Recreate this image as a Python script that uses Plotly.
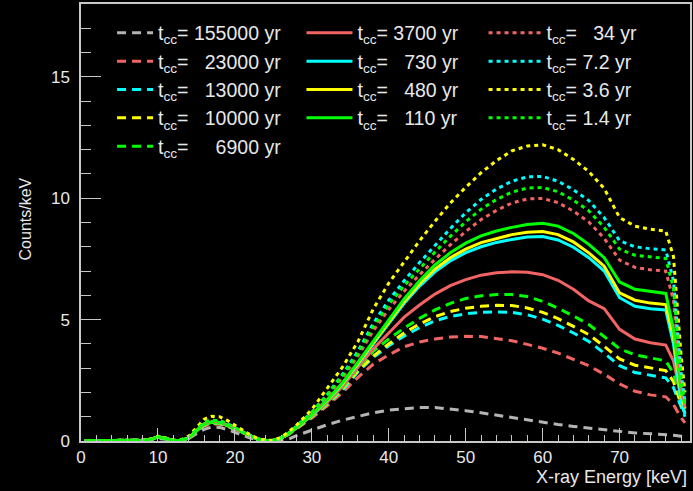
import plotly.graph_objects as go

energy = [0.5, 4, 8, 9, 10, 11, 12, 13, 14, 15, 16, 17, 18, 19, 20, 21, 22, 23, 24, 25, 26, 27,
          28, 30, 32, 34, 36, 38, 40, 42, 44, 46, 48, 50, 52, 54, 56, 58, 60, 62, 64, 66, 68, 70,
          72, 74, 76, 77, 78, 78.5]

gray_155000 = [0.01, 0.01, 0.02, 0.05, 0.1, 0.07, 0.02, 0.03, 0.1, 0.3, 0.48, 0.58, 0.56, 0.47, 0.35, 0.23, 0.12, 0.05, 0.01, 0.0, 0.02, 0.08,
               0.22, 0.45, 0.67, 0.86, 1.02, 1.16, 1.27, 1.34, 1.38, 1.38, 1.33, 1.25, 1.16, 1.06, 0.96, 0.86, 0.77, 0.68, 0.6, 0.53, 0.45, 0.38,
               0.33, 0.3, 0.27, 0.24, 0.2, 0.17]
red_23000 = [0.02, 0.02, 0.03, 0.07, 0.15, 0.1, 0.02, 0.03, 0.12, 0.38, 0.62, 0.7, 0.69, 0.6, 0.47, 0.32, 0.18, 0.07, 0.02, 0.02, 0.1, 0.28,
             0.5, 0.95, 1.45, 2.0, 2.62, 3.17, 3.55, 3.88, 4.08, 4.2, 4.28, 4.31, 4.3, 4.23, 4.13, 3.98, 3.82, 3.62, 3.37, 3.1, 2.75, 2.35,
             2.05, 1.9, 1.82, 1.5, 0.95, 0.75]
cyan_13000 = [0.02, 0.02, 0.03, 0.07, 0.16, 0.1, 0.02, 0.03, 0.12, 0.4, 0.65, 0.74, 0.72, 0.62, 0.48, 0.33, 0.18, 0.07, 0.02, 0.02, 0.11, 0.29,
              0.52, 1.0, 1.52, 2.1, 2.85, 3.45, 3.92, 4.33, 4.67, 4.95, 5.13, 5.24, 5.3, 5.32, 5.3, 5.2, 5.02, 4.76, 4.45, 4.1, 3.62, 3.1,
              2.82, 2.7, 2.6, 2.2, 1.35, 1.0]
yellow_10000 = [0.02, 0.02, 0.03, 0.07, 0.16, 0.1, 0.02, 0.03, 0.12, 0.4, 0.66, 0.75, 0.73, 0.63, 0.49, 0.33, 0.18, 0.07, 0.02, 0.02, 0.11, 0.29,
                0.52, 1.01, 1.54, 2.15, 2.9, 3.5, 4.0, 4.45, 4.82, 5.12, 5.33, 5.47, 5.55, 5.59, 5.58, 5.48, 5.3, 5.04, 4.72, 4.38, 3.9, 3.38,
                3.12, 3.0, 2.9, 2.45, 1.5, 1.15]
green_6900 = [0.02, 0.02, 0.03, 0.07, 0.16, 0.1, 0.02, 0.03, 0.12, 0.41, 0.67, 0.76, 0.74, 0.64, 0.49, 0.34, 0.19, 0.07, 0.02, 0.02, 0.11, 0.3,
              0.53, 1.03, 1.57, 2.2, 3.0, 3.7, 4.2, 4.65, 5.05, 5.4, 5.67, 5.87, 5.98, 6.03, 6.03, 5.95, 5.75, 5.47, 5.15, 4.8, 4.3, 3.8,
              3.55, 3.42, 3.3, 2.8, 1.7, 1.3]
red_3700 = [0.02, 0.02, 0.03, 0.07, 0.16, 0.1, 0.02, 0.03, 0.12, 0.42, 0.68, 0.77, 0.75, 0.64, 0.5, 0.34, 0.19, 0.07, 0.02, 0.02, 0.11, 0.3,
            0.54, 1.05, 1.6, 2.25, 3.05, 3.8, 4.45, 5.1, 5.6, 6.05, 6.4, 6.65, 6.83, 6.93, 6.97, 6.95, 6.85, 6.62, 6.25, 5.77, 5.45, 4.6,
            4.2, 4.05, 3.95, 3.3, 1.8, 1.4]
cyan_730 = [0.02, 0.02, 0.03, 0.07, 0.16, 0.1, 0.02, 0.03, 0.12, 0.42, 0.7, 0.78, 0.76, 0.65, 0.5, 0.34, 0.19, 0.07, 0.02, 0.02, 0.12, 0.3,
            0.55, 1.08, 1.66, 2.35, 3.17, 4.0, 4.87, 5.67, 6.38, 6.97, 7.42, 7.76, 8.0, 8.18, 8.3, 8.4, 8.42, 8.28, 7.98, 7.55, 7.0, 5.9,
            5.55, 5.45, 5.4, 4.0, 1.6, 1.1]
yellow_480 = [0.02, 0.02, 0.03, 0.07, 0.16, 0.1, 0.02, 0.03, 0.12, 0.42, 0.7, 0.78, 0.76, 0.65, 0.5, 0.34, 0.19, 0.07, 0.02, 0.02, 0.12, 0.3,
              0.55, 1.09, 1.68, 2.37, 3.2, 4.05, 4.93, 5.75, 6.48, 7.08, 7.55, 7.9, 8.17, 8.35, 8.5, 8.6, 8.63, 8.5, 8.2, 7.75, 7.2, 6.1,
              5.8, 5.68, 5.62, 4.3, 1.9, 1.35]
green_110 = [0.02, 0.02, 0.03, 0.07, 0.16, 0.1, 0.02, 0.03, 0.12, 0.42, 0.7, 0.78, 0.76, 0.65, 0.5, 0.34, 0.19, 0.07, 0.02, 0.02, 0.12, 0.3,
             0.55, 1.1, 1.7, 2.4, 3.25, 4.12, 5.0, 5.85, 6.6, 7.25, 7.75, 8.15, 8.45, 8.65, 8.8, 8.92, 8.97, 8.85, 8.55, 8.1, 7.55, 6.55,
             6.25, 6.15, 6.08, 4.6, 2.0, 1.5]
red_34 = [0.02, 0.02, 0.03, 0.07, 0.17, 0.11, 0.02, 0.04, 0.14, 0.45, 0.74, 0.82, 0.8, 0.69, 0.53, 0.36, 0.2, 0.08, 0.02, 0.03, 0.13, 0.32,
          0.58, 1.15, 1.85, 2.62, 3.5, 4.55, 5.42, 6.17, 6.85, 7.48, 8.08, 8.63, 9.12, 9.5, 9.8, 9.97, 9.99, 9.82, 9.47, 9.02, 8.35, 7.45,
          7.15, 7.05, 7.0, 5.8, 2.3, 1.3]
cyan_7_2 = [0.02, 0.02, 0.03, 0.07, 0.18, 0.11, 0.02, 0.04, 0.15, 0.47, 0.78, 0.86, 0.84, 0.72, 0.55, 0.38, 0.21, 0.08, 0.02, 0.03, 0.13, 0.33,
            0.6, 1.18, 1.92, 2.75, 3.7, 4.85, 5.8, 6.6, 7.35, 8.05, 8.75, 9.4, 9.95, 10.38, 10.7, 10.88, 10.9, 10.7, 10.35, 9.9, 9.2, 8.25,
            8.0, 7.92, 7.87, 6.6, 2.8, 1.6]
yellow_3_6 = [0.02, 0.02, 0.03, 0.08, 0.2, 0.13, 0.03, 0.05, 0.2, 0.55, 0.9, 1.02, 1.0, 0.85, 0.66, 0.45, 0.25, 0.1, 0.03, 0.03, 0.15, 0.38,
              0.65, 1.3, 2.15, 3.05, 4.1, 5.45, 6.5, 7.4, 8.25, 9.05, 9.8, 10.45, 11.05, 11.55, 11.95, 12.15, 12.2, 12.0, 11.6, 11.1, 10.4, 9.2,
              8.85, 8.72, 8.65, 7.6, 3.5, 2.0]
green_1_4 = [0.02, 0.02, 0.03, 0.07, 0.18, 0.11, 0.02, 0.04, 0.15, 0.46, 0.77, 0.85, 0.83, 0.71, 0.54, 0.37, 0.21, 0.08, 0.02, 0.03, 0.13, 0.33,
             0.59, 1.17, 1.9, 2.7, 3.62, 4.72, 5.62, 6.4, 7.1, 7.78, 8.43, 9.03, 9.55, 9.95, 10.25, 10.42, 10.44, 10.27, 9.92, 9.48, 8.8, 7.9,
             7.65, 7.57, 7.52, 6.3, 2.6, 1.5]

FS = "\u2007"   # figure space (digit width)
labels_col1 = ["155000", FS + "23000", FS + "13000", FS + "10000", FS + FS + "6900"]
labels_col2 = ["3700", FS + "730", FS + "480", FS + "110"]
labels_col3 = [FS + "34", "7.2", "3.6", "1.4"]

RED = "#f26464"
CYAN = "#00ffff"
YELLOW = "#ffff00"
GREEN = "#00ff00"
GRAY = "#b4b4b4"
DASH = "9px,6px"
DOT = "4px,4px"

series = [
    (labels_col1[0], gray_155000, GRAY, DASH, "legend"),
    (labels_col1[1], red_23000, RED, DASH, "legend"),
    (labels_col1[2], cyan_13000, CYAN, DASH, "legend"),
    (labels_col1[3], yellow_10000, YELLOW, DASH, "legend"),
    (labels_col1[4], green_6900, GREEN, DASH, "legend"),
    (labels_col2[0], red_3700, RED, "solid", "legend2"),
    (labels_col2[1], cyan_730, CYAN, "solid", "legend2"),
    (labels_col2[2], yellow_480, YELLOW, "solid", "legend2"),
    (labels_col2[3], green_110, GREEN, "solid", "legend2"),
    (labels_col3[0], red_34, RED, DOT, "legend3"),
    (labels_col3[1], cyan_7_2, CYAN, DOT, "legend3"),
    (labels_col3[2], yellow_3_6, YELLOW, DOT, "legend3"),
    (labels_col3[3], green_1_4, GREEN, DOT, "legend3"),
]

fig = go.Figure()
for lab, vals, col, dash, leg in series:
    fig.add_trace(go.Scatter(
        x=energy, y=vals, mode="lines",
        name="t<sub>cc</sub>= " + lab + " yr",
        line=dict(color=col, width=3, dash=dash),
        legend=leg,
    ))

FONT = "Liberation Sans, Arial, Helvetica, sans-serif"
TXT = "#e8e8e8"
AX = "#c8c8c8"

legend_common = dict(bgcolor="rgba(0,0,0,0)", font=dict(family=FONT, size=19.5, color=TXT),
                     xanchor="left", yanchor="top", tracegroupgap=0)

fig.update_layout(
    width=693, height=491,
    margin=dict(l=81, r=1, t=4, b=50),
    paper_bgcolor="#000000", plot_bgcolor="#000000",
    font=dict(family=FONT, color=TXT),
    legend=dict(x=0.051, y=0.978, itemwidth=36, **legend_common),
    legend2=dict(x=0.362, y=0.978, itemwidth=46, **legend_common),
    legend3=dict(x=0.661, y=0.978, itemwidth=53, **legend_common),
    xaxis=dict(range=[0, 79.15], showgrid=False, zeroline=False,
               showline=True, mirror=True, linecolor=AX, linewidth=1.5,
               ticks="inside", ticklen=13, tickwidth=1, tickcolor=AX,
               tick0=0, dtick=10, tickfont=dict(size=17, color=TXT),
               minor=dict(ticks="inside", ticklen=6, dtick=2, tickcolor=AX, tickwidth=1, showgrid=False)),
    yaxis=dict(range=[0, 18], showgrid=False, zeroline=False,
               showline=True, mirror=True, linecolor=AX, linewidth=1.5,
               ticks="inside", ticklen=20, tickwidth=1, tickcolor=AX,
               tick0=0, dtick=5, tickfont=dict(size=17, color=TXT), ticklabelstandoff=6,
               minor=dict(ticks="inside", ticklen=10, dtick=1, tickcolor=AX, tickwidth=1, showgrid=False)),
    annotations=[
        dict(text="X-ray Energy [keV]", xref="paper", yref="paper", x=1, y=-0.082,
             xanchor="right", yanchor="middle", xshift=-1, showarrow=False,
             font=dict(family=FONT, size=18, color=TXT)),
        dict(text="Counts/keV", xref="paper", yref="paper", x=0, y=0.507, xshift=-56,
             xanchor="center", yanchor="middle", textangle=-90, showarrow=False,
             font=dict(family=FONT, size=16, color=TXT)),
    ],
)

fig.write_html("out.html")
